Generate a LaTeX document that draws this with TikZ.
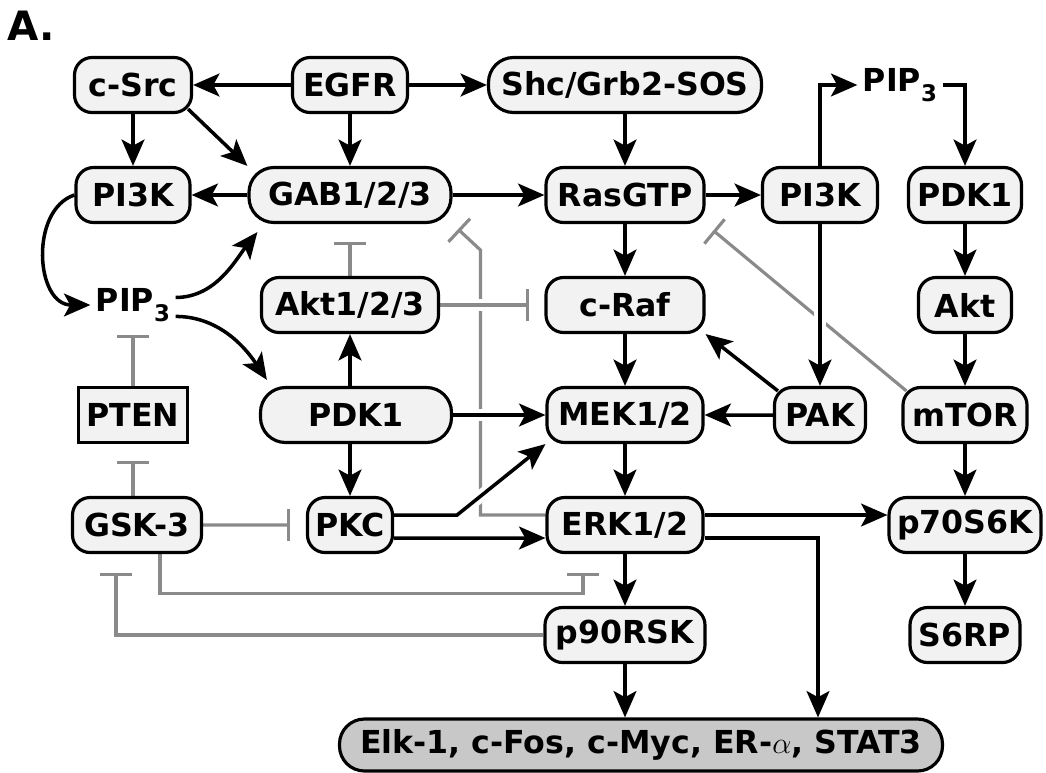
\documentclass[tikz,border=0pt]{standalone}
\usepackage{fontspec}
\setmainfont{DejaVu Sans}
\usetikzlibrary{arrows.meta,positioning}
\definecolor{boxfill}{HTML}{F2F2F2}
\definecolor{elkfill}{HTML}{C8C8C8}
\definecolor{inhgrey}{HTML}{8A8A8A}
\pgfdeclarelayer{bg}
\pgfsetlayers{bg,main}
\newcommand{\pipsub}{\raisebox{-0.3em}{\fontsize{13}{13}\selectfont 3}}

\begin{document}
\begin{tikzpicture}[
    x=0.2mm, y=-0.2mm,
    node distance=2.2cm,
    mol/.style={draw, line width=1.8pt, fill=boxfill, rounded corners=3.5mm, minimum height=11mm, inner sep=0pt, font=\bfseries\fontsize{18}{20}\selectfont},
    pill/.style={mol, rounded corners=5mm},
    lbl/.style={inner sep=3pt, font=\bfseries\fontsize{18}{20}\selectfont},
    act/.style={line width=2pt, -{Stealth[length=15pt, width=13pt, inset=3.5pt]}, preaction={draw=white, line width=7pt, -}},
    inh/.style={line width=1.8pt, draw=inhgrey, -{Bar[width=18pt]}}
]
\useasboundingbox (0,0) rectangle (1046,773);

\node[inner sep=0pt, font=\bfseries\fontsize{23}{23}\selectfont] (title) at (31,26) {A.};

\node[mol, minimum width=23.4mm] (csrc) at (133,85) {c-Src};
\node[mol, minimum width=23mm] (egfr) at (350,85) {EGFR};
\node[pill, minimum width=54.6mm] (shc) at (625,85) {Shc/Grb2-SOS};
\node[lbl] (pip3b) at (900,85) {PIP\pipsub};

\node[mol, minimum width=22.8mm, below of=csrc] (pi3ka) {PI3K};
\node[pill, minimum width=40.4mm, below of=egfr] (gab) {GAB1/2/3};
\node[mol, minimum width=31.6mm, below of=shc] (ras) {RasGTP};
\node[mol, minimum width=23mm, right of=ras, node distance=39mm] (pi3kb) {PI3K};
\node[mol, minimum width=22.6mm, right of=pi3kb, node distance=29mm] (pdk1b) {PDK1};

\node[lbl, below of=pi3ka] (pip3a) {PIP\pipsub};
\node[mol, minimum width=35.4mm, below of=gab] (akt123) {Akt1/2/3};
\node[mol, minimum width=31.6mm, below of=ras] (raf) {c-Raf};
\node[mol, minimum width=18.6mm, below of=pdk1b] (aktb) {Akt};

\node[mol, sharp corners, minimum width=21.8mm, below of=pip3a] (pten) {PTEN};
\node[pill, minimum width=38.2mm, below of=akt123, xshift=1.2mm] (pdk1a) {PDK1};
\node[mol, minimum width=31.2mm, below of=raf] (mek) {MEK1/2};
\node[mol, minimum width=18.2mm, below of=pi3kb, node distance=4.4cm] (pak) {PAK};
\node[mol, minimum width=24.8mm, below of=aktb] (mtor) {mTOR};

\node[mol, minimum width=25.8mm, below of=pten, xshift=0.8mm] (gsk) {GSK-3};
\node[mol, minimum width=17mm, below of=akt123, node distance=4.4cm] (pkc) {PKC};
\node[mol, minimum width=31.2mm, below of=mek] (erk) {ERK1/2};
\node[mol, minimum width=30.4mm, below of=mtor] (p70) {p70S6K};

\node[mol, minimum width=32mm, below of=erk] (p90) {p90RSK};
\node[mol, minimum width=22mm, below of=p70] (s6rp) {S6RP};

\node[pill, fill=elkfill, minimum width=120.6mm, minimum height=10.4mm, below of=p90, xshift=3.2mm] (elk) {Elk-1, c-Fos, c-Myc, ER-$\alpha$, STAT3};

\begin{pgfonlayer}{bg}
\draw[inh, shorten >=1.5mm] ([yshift=2mm]erk.west) -- ++(-65,0) -- ++(0,-265) -- (gab.south east);
\draw[inh, shorten >=3mm, preaction={draw=white, line width=7pt, -}] (akt123) -- (raf);
\draw[inh, shorten >=3.6mm] (akt123) -- (gab);
\draw[inh, shorten >=2mm] ([shift={(5,5)}]mtor.north west) -- (ras.south east);
\draw[inh, shorten >=1.6mm] (pten) -- (pip3a);
\draw[inh, shorten >=3.4mm] (gsk.north -| pten) -- (pten);
\draw[inh, shorten >=3.2mm] (gsk) -- (pkc);
\draw[inh, shorten >=3.8mm] ([xshift=4.6mm]gsk.south) -- ++(0,39) -| ([xshift=-8.4mm]erk.south);
\draw[inh, shorten >=3.8mm] (p90.west) -| ([xshift=-4.2mm]gsk.south);

\draw[act] (egfr) -- (csrc);
\draw[act] (egfr) -- (shc);
\draw[act] (csrc) -- (pi3ka);
\draw[act] ([shift={(-5,-5)}]csrc.south east) -- (gab.north west);
\draw[act] (egfr) -- (gab);
\draw[act] (shc) -- (ras);
\draw[act] (gab) -- (pi3ka);
\draw[act] (gab) -- (ras);
\draw[act] (ras) -- (pi3kb);
\draw[act] (pi3kb) |- (pip3b);
\draw[act] (pip3b) -| (pdk1b);
\draw[act] (pdk1b) -- (aktb);
\draw[act] (aktb) -- (mtor);
\draw[act] (mtor) -- (p70);
\draw[act] (p70) -- (s6rp);
\draw[act] (pi3ka.west) .. controls +(-45,15) and +(-55,0) .. (pip3a.west);
\draw[act] (pip3a.10) .. controls +(40,0) and +(-22,28) .. ([shift={(10,8)}]gab.south west);
\draw[act] (pip3a.-15) .. controls +(45,0) and +(-20,-30) .. ([shift={(8,-6)}]pdk1a.north west);
\draw[act] (pdk1a.north -| akt123) -- (akt123);
\draw[act] (pdk1a.south -| pkc) -- (pkc);
\draw[act] (pdk1a) -- (mek);
\draw[act] (ras) -- (raf);
\draw[act] (raf) -- (mek);
\draw[act] (mek) -- (erk);
\draw[act] (pi3kb) -- (pak);
\draw[act] ([shift={(5,5)}]pak.north west) -- (raf.south east);
\draw[act] (pak) -- (mek);
\draw[act] ([yshift=2mm]pkc.east) -- ++(63,0) -- (mek.south west);
\draw[act] ([yshift=-2.6mm]pkc.east) -- ([yshift=-2.6mm]erk.west);
\draw[act] ([yshift=2mm]erk.east) -- ([yshift=2mm]p70.west);
\draw[act] ([yshift=-2.6mm]erk.east) -| ([xshift=35.4mm]elk.north);
\draw[act] (erk) -- (p90);
\draw[act] (p90) -- (p90 |- elk.north);
\end{pgfonlayer}

\end{tikzpicture}
\end{document}
